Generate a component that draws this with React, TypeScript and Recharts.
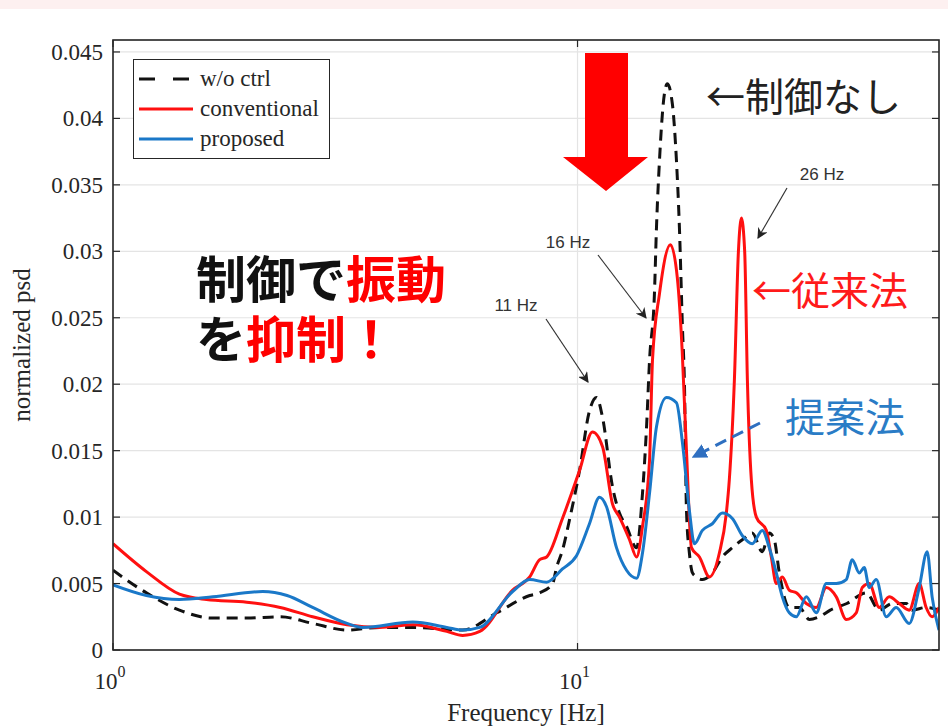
import React from "react";
import { LineChart, Line, XAxis, YAxis, CartesianGrid, Legend } from "recharts";

// frequency [Hz] / normalized psd
const WO_FREQ = [1.0, 1.18, 1.39, 1.64, 1.94, 2.29, 2.69, 3.19, 3.75, 4.42, 5.66, 6.7, 7.89, 8.29, 8.84, 9.01, 9.28, 9.61, 10.1, 10.61, 10.99, 11.32, 11.89, 12.31, 12.75, 13.4, 13.8, 14.08, 14.29, 14.64, 14.79, 15.01, 15.39, 15.61, 16.0, 16.33, 16.57, 16.82, 16.99, 17.16, 17.41, 17.68, 18.03, 18.57, 19.51, 20.5, 21.54, 22.64, 23.78, 24.99, 25.87, 26.52, 27.19, 28.57, 30.02, 31.55, 33.15, 35.0, 38.0, 41.84, 44.62, 47.58, 51.0, 52.54, 56.3, 60];
const WO_PSD = [0.006, 0.0043, 0.003, 0.0024, 0.0024, 0.0025, 0.002, 0.0015, 0.0017, 0.0017, 0.0015, 0.0028, 0.0041, 0.0043, 0.005, 0.0062, 0.0075, 0.0098, 0.0135, 0.018, 0.019, 0.0175, 0.0123, 0.0103, 0.0093, 0.0077, 0.0118, 0.0168, 0.0218, 0.0268, 0.0318, 0.0368, 0.0419, 0.0426, 0.0411, 0.0368, 0.0318, 0.0243, 0.02, 0.0105, 0.0073, 0.0058, 0.0055, 0.0053, 0.0058, 0.007, 0.0077, 0.0083, 0.0088, 0.0074, 0.0088, 0.0083, 0.0058, 0.0032, 0.0032, 0.0023, 0.0025, 0.003, 0.0035, 0.0043, 0.003, 0.0035, 0.0035, 0.003, 0.0032, 0.003];

const CONV_FREQ = [1.0, 1.18, 1.39, 1.59, 1.94, 2.29, 2.69, 3.19, 3.75, 4.42, 5.23, 5.66, 6.16, 7.25, 7.89, 8.29, 8.58, 9.28, 10.1, 10.77, 11.32, 11.89, 12.31, 12.94, 13.4, 13.8, 14.29, 14.5, 15.01, 15.85, 16.4, 16.8, 17.16, 17.59, 18.3, 19.23, 20.2, 20.91, 21.22, 21.76, 22.2, 22.53, 22.9, 23.21, 23.67, 24.26, 25.49, 26.13, 26.79, 27.6, 28.57, 29.58, 31.08, 32.66, 34.32, 36.06, 37.89, 39.81, 41.02, 42.46, 44.62, 46.88, 49.26, 51.76, 54.39, 56.3, 57.99, 60];
const CONV_PSD = [0.008, 0.0059, 0.0042, 0.0038, 0.0036, 0.0032, 0.0025, 0.0019, 0.0017, 0.0019, 0.0014, 0.0011, 0.0014, 0.0045, 0.0055, 0.0068, 0.007, 0.0099, 0.0135, 0.0164, 0.0153, 0.011, 0.01, 0.0083, 0.007, 0.0093, 0.0143, 0.0218, 0.0268, 0.0305, 0.028, 0.0225, 0.015, 0.0077, 0.007, 0.0055, 0.0073, 0.0103, 0.0128, 0.0203, 0.03, 0.0325, 0.03, 0.0203, 0.0128, 0.01, 0.009, 0.007, 0.005, 0.0055, 0.0045, 0.0043, 0.0035, 0.0032, 0.0047, 0.004, 0.0023, 0.0028, 0.0047, 0.005, 0.0032, 0.004, 0.0035, 0.003, 0.005, 0.0032, 0.0025, 0.0032];

const PROP_FREQ = [1.0, 1.18, 1.39, 1.64, 2.1, 2.37, 2.69, 3.19, 3.45, 4.42, 5.23, 5.66, 6.16, 7.25, 7.89, 8.58, 9.28, 9.95, 10.61, 11.15, 11.54, 12.13, 12.75, 13.4, 13.8, 14.29, 14.79, 15.54, 16.33, 16.82, 17.41, 17.85, 18.57, 19.51, 20.5, 21.54, 22.64, 23.78, 24.99, 25.87, 26.79, 27.6, 28.57, 29.58, 31.08, 32.66, 34.32, 36.06, 37.89, 39.03, 40.41, 41.42, 42.46, 43.96, 46.18, 48.53, 51.76, 54.39, 56.58, 57.99, 60];
const PROP_PSD = [0.0049, 0.0041, 0.0038, 0.004, 0.0044, 0.0041, 0.0032, 0.002, 0.0017, 0.0021, 0.0017, 0.0015, 0.0017, 0.0044, 0.0053, 0.0051, 0.0061, 0.0071, 0.0095, 0.0115, 0.0108, 0.0077, 0.006, 0.0054, 0.0073, 0.0118, 0.0168, 0.019, 0.0186, 0.0156, 0.0105, 0.008, 0.009, 0.0095, 0.0103, 0.0099, 0.0086, 0.008, 0.009, 0.0077, 0.0058, 0.004, 0.0028, 0.0025, 0.004, 0.0028, 0.005, 0.005, 0.0053, 0.0068, 0.0058, 0.0062, 0.0047, 0.0053, 0.0025, 0.0032, 0.002, 0.0047, 0.0074, 0.004, 0.0015];

const Y_TICKS = [0, 0.005, 0.01, 0.015, 0.02, 0.025, 0.03, 0.035, 0.04, 0.045];
const X_TICKS = [1, 10];

const SERIES = [
  { name: "w/o ctrl", freq: WO_FREQ, psd: WO_PSD, color: "#111111", dash: "11 7" },
  { name: "conventional", freq: CONV_FREQ, psd: CONV_PSD, color: "#ff1010", dash: undefined },
  { name: "proposed", freq: PROP_FREQ, psd: PROP_PSD, color: "#1a78c8", dash: undefined },
];

const W = 948;
const H = 727;
const PLOT = { left: 113, top: 40, right: 939, bottom: 650 };
const AXIS_INK = "#262626";
const SERIF = "'Liberation Serif', 'Times New Roman', serif";
const SANS = "'Liberation Sans', Arial, sans-serif";
const JP = "'Noto Sans CJK JP', sans-serif";

const toRows = (freq: number[], psd: number[]) =>
  freq.map((f, i) => ({ f, v: psd[i] }));

function YTick({ x, y, payload }: any) {
  const v = payload.value as number;
  const label = v === 0 ? "0" : String(+v.toFixed(3));
  return (
    <g>
      <text x={x} y={y} dy={8} textAnchor="end" fontFamily={SERIF} fontSize={23} fill={AXIS_INK}>
        {label}
      </text>
      <line x1={PLOT.left} x2={PLOT.left + 7} y1={y} y2={y} stroke={AXIS_INK} strokeWidth={1.2} />
      <line x1={PLOT.right - 7} x2={PLOT.right} y1={y} y2={y} stroke={AXIS_INK} strokeWidth={1.2} />
    </g>
  );
}

function XTick({ x, payload }: any) {
  const exp = Math.round(Math.log10(payload.value));
  return (
    <g>
      <text x={x - 3} y={PLOT.bottom + 39} textAnchor="middle" fontFamily={SERIF} fontSize={23} fill={AXIS_INK}>
        10
        <tspan dy={-12} fontSize={16}>{exp}</tspan>
      </text>
      <line x1={x} x2={x} y1={PLOT.bottom} y2={PLOT.bottom - 7} stroke={AXIS_INK} strokeWidth={1.2} />
      <line x1={x} x2={x} y1={PLOT.top} y2={PLOT.top + 7} stroke={AXIS_INK} strokeWidth={1.2} />
    </g>
  );
}

function LegendBox() {
  return (
    <div
      style={{
        border: `1.5px solid ${AXIS_INK}`,
        background: "#fff",
        padding: "4px 10px 4px 4px",
        fontFamily: SERIF,
        fontSize: 23,
        color: AXIS_INK,
        lineHeight: "30px",
      }}
    >
      {SERIES.map((s) => (
        <div key={s.name} style={{ display: "flex", alignItems: "center" }}>
          <svg width={56} height={12} style={{ marginRight: 6 }}>
            <line x1={1} x2={55} y1={6} y2={6} stroke={s.color} strokeWidth={3.2} strokeDasharray={s.dash ? "16 18" : undefined} />
          </svg>
          <span>{s.name}</span>
        </div>
      ))}
    </div>
  );
}

function Overlay() {
  const midY = (PLOT.top + PLOT.bottom) / 2;
  return (
    <svg width={W} height={H} style={{ position: "absolute", left: 0, top: 0, pointerEvents: "none" }}>
      <defs>
        <marker id="headK" viewBox="0 0 10 10" refX="9" refY="5" markerWidth="9" markerHeight="9" orient="auto">
          <path d="M0,0 L10,5 L0,10 L3,5 z" fill="#222" />
        </marker>
        <marker id="headB" viewBox="0 0 10 10" refX="9" refY="5" markerWidth="5" markerHeight="5" orient="auto">
          <path d="M0,0 L10,5 L0,10 z" fill="#2f6fc0" />
        </marker>
      </defs>
      {/* plot box */}
      <rect x={PLOT.left} y={PLOT.top} width={PLOT.right - PLOT.left} height={PLOT.bottom - PLOT.top} fill="none" stroke={AXIS_INK} strokeWidth={1.6} />

      {/* big red arrow */}
      <polygon points="585,53 628,53 628,157 648,157 606,191 563,157 585,157" fill="#ff0000" />

      {/* peak labels */}
      <text x={822} y={180} textAnchor="middle" fontFamily={SANS} fontSize={17} fill="#333">26 Hz</text>
      <line x1={787} y1={188} x2={758} y2={238} stroke="#333" strokeWidth={1.2} markerEnd="url(#headK)" />
      <text x={568} y={248} textAnchor="middle" fontFamily={SANS} fontSize={17} fill="#333">16 Hz</text>
      <line x1={598} y1={255} x2={646} y2={318} stroke="#333" strokeWidth={1.2} markerEnd="url(#headK)" />
      <text x={516} y={311} textAnchor="middle" fontFamily={SANS} fontSize={17} fill="#333">11 Hz</text>
      <line x1={546} y1={319} x2={588} y2={382} stroke="#333" strokeWidth={1.2} markerEnd="url(#headK)" />

      {/* callouts */}
      <text x={706} y={111} fontFamily={JP} fontSize={39} fill="#222">←制御なし</text>
      <text x={752} y={305} fontFamily={JP} fontSize={39} fill="#ff1a1a">←従来法</text>
      <text x={785} y={432} fontFamily={JP} fontSize={40} fill="#2a7cc6">提案法</text>
      <line x1={760} y1={423} x2={693} y2={457} stroke="#2f6fc0" strokeWidth={3} strokeDasharray="12 7" markerEnd="url(#headB)" />

      <text x={196} y={298} fontFamily={JP} fontSize={50} fontWeight={700}>
        <tspan fill="#111">制御で</tspan>
        <tspan fill="#ff0000">振動</tspan>
        <tspan x={196} dy={60} fill="#111">を</tspan>
        <tspan fill="#ff0000">抑制！</tspan>
      </text>

      {/* axis titles */}
      <text x={(PLOT.left + PLOT.right) / 2} y={721} textAnchor="middle" fontFamily={SERIF} fontSize={25} fill={AXIS_INK}>
        Frequency [Hz]
      </text>
      <text
        x={30}
        y={midY}
        textAnchor="middle"
        fontFamily={SERIF}
        fontSize={25}
        fill={AXIS_INK}
        transform={`rotate(-90 30 ${midY})`}
      >
        normalized psd
      </text>
    </svg>
  );
}

export default function App() {
  return (
    <div style={{ position: "absolute", left: 0, top: 0, width: W, height: H, background: "#fff", overflow: "hidden" }}>
      <div style={{ position: "absolute", left: 0, top: 0, width: W, height: 9, background: "#fdf0f0" }} />
      <LineChart
        width={W}
        height={H}
        margin={{ top: PLOT.top, right: W - PLOT.right, left: 0, bottom: 0 }}
      >
        <CartesianGrid stroke="#e4e4e4" strokeWidth={1.2} />
        <XAxis
          dataKey="f"
          type="number"
          scale="log"
          domain={[1, 60]}
          ticks={X_TICKS}
          allowDataOverflow
          height={H - PLOT.bottom}
          axisLine={false}
          tickLine={false}
          tickSize={0}
          tick={<XTick />}
        />
        <YAxis
          type="number"
          domain={[0, 0.0459]}
          ticks={Y_TICKS}
          allowDataOverflow
          width={PLOT.left}
          axisLine={false}
          tickLine={false}
          tickSize={0}
          tickMargin={10}
          tick={<YTick />}
        />
        {SERIES.map((s) => (
          <Line
            key={s.name}
            name={s.name}
            data={toRows(s.freq, s.psd)}
            dataKey="v"
            type="monotone"
            stroke={s.color}
            strokeWidth={3}
            strokeDasharray={s.dash}
            dot={false}
            isAnimationActive={false}
          />
        ))}
        <Legend
          layout="vertical"
          align="center"
          verticalAlign="middle"
          content={<LegendBox />}
          wrapperStyle={{ left: 133, top: 59, width: "auto" }}
        />
      </LineChart>
      <Overlay />
    </div>
  );
}
